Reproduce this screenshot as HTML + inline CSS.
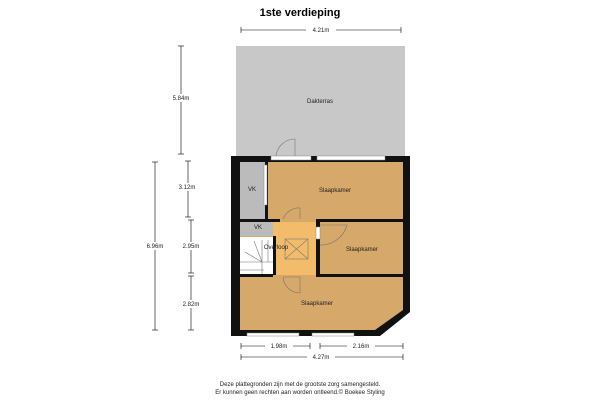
<!DOCTYPE html><html><head><style>body{margin:0;background:#fff}svg{display:block}</style></head><body>
<svg width="600" height="400" viewBox="0 0 600 400" font-family="Liberation Sans, sans-serif">
<text x="300" y="16" text-anchor="middle" font-weight="bold" font-size="11">1ste verdieping</text>
<g stroke="#000" stroke-width="0.6" fill="none">
<line x1="241" y1="30" x2="401" y2="30"/><line x1="241" y1="27" x2="241" y2="33"/><line x1="401" y1="27" x2="401" y2="33"/>
<line x1="181" y1="46" x2="181" y2="154"/><line x1="178" y1="46" x2="184" y2="46"/><line x1="178" y1="154" x2="184" y2="154"/>
<line x1="188" y1="161" x2="188" y2="217"/><line x1="185" y1="161" x2="191" y2="161"/><line x1="185" y1="217" x2="191" y2="217"/>
<line x1="191" y1="220" x2="191" y2="273"/><line x1="188" y1="220" x2="194" y2="220"/><line x1="188" y1="273" x2="194" y2="273"/>
<line x1="191" y1="276" x2="191" y2="330"/><line x1="188" y1="276" x2="194" y2="276"/><line x1="188" y1="330" x2="194" y2="330"/>
<line x1="155" y1="162" x2="155" y2="330"/><line x1="152" y1="162" x2="158" y2="162"/><line x1="152" y1="330" x2="158" y2="330"/>
<line x1="241" y1="346" x2="310" y2="346"/><line x1="320" y1="346" x2="403" y2="346"/>
<line x1="241" y1="343" x2="241" y2="349"/><line x1="310" y1="343" x2="310" y2="349"/><line x1="320" y1="343" x2="320" y2="349"/><line x1="403" y1="343" x2="403" y2="349"/>
<line x1="241" y1="357" x2="403" y2="357"/><line x1="241" y1="354" x2="241" y2="360"/><line x1="403" y1="354" x2="403" y2="360"/>
</g>
<g font-size="6" fill="#222" text-anchor="middle">
<rect x="306" y="26" width="30" height="8" fill="#fff"/><text x="321" y="32">4.21m</text>
<rect x="168" y="94" width="26" height="8" fill="#fff"/><text x="181" y="100">5.84m</text>
<rect x="173" y="183" width="28" height="8" fill="#fff"/><text x="187" y="189">3.12m</text>
<rect x="177" y="242" width="28" height="8" fill="#fff"/><text x="191" y="248">2.95m</text>
<rect x="177" y="300" width="28" height="8" fill="#fff"/><text x="191" y="306">2.82m</text>
<rect x="141" y="242" width="28" height="8" fill="#fff"/><text x="155" y="248">6.96m</text>
<rect x="265" y="342" width="28" height="8" fill="#fff"/><text x="279" y="348">1.98m</text>
<rect x="347" y="342" width="28" height="8" fill="#fff"/><text x="361" y="348">2.16m</text>
<rect x="307" y="353" width="28" height="8" fill="#fff"/><text x="321" y="359">4.27m</text>
<text x="300" y="386">Deze plattegronden zijn met de grootste zorg samengesteld.</text>
<text x="300" y="394">Er kunnen geen rechten aan worden ontleend.© Boekee Styling</text>
</g>
<rect x="236" y="46" width="169" height="111" fill="#c8c8c8"/>
<text x="320" y="103" font-size="6" text-anchor="middle" fill="#222">Dakterras</text>
<!-- building walls -->
<path d="M231 156 H410 V312 L380 336 H231 Z" fill="#111"/>
<path d="M240 162 H403 V310 L375 330 H240 Z" fill="#d6a869"/>
<rect x="240" y="162" width="25" height="57" fill="#bbb"/>
<rect x="240" y="222" width="38" height="14" fill="#bbb"/>
<rect x="240" y="237" width="33" height="37" fill="#fff"/>
<rect x="273" y="222" width="43" height="53" fill="#f3bc6b"/>
<!-- interior walls -->
<rect x="265" y="162" width="3" height="60" fill="#111"/>
<rect x="240" y="219" width="40" height="3" fill="#111"/>
<rect x="316" y="219" width="87" height="3" fill="#111"/>
<rect x="316" y="219" width="4" height="57" fill="#111"/>
<rect x="273" y="236" width="3" height="39" fill="#111"/>
<rect x="240" y="274" width="33" height="3" fill="#111"/>
<rect x="316" y="274" width="87" height="3" fill="#111"/>
<!-- windows -->
<g fill="#fff" stroke="#888" stroke-width="0.5">
<rect x="271" y="156" width="40" height="4"/><rect x="317" y="156" width="68" height="4"/>
<rect x="247" y="333" width="52" height="3"/><rect x="312" y="333" width="42" height="3"/>
<rect x="264" y="165" width="3" height="40"/><rect x="316" y="227" width="4" height="12"/>
</g>
<g fill="none" stroke="#777" stroke-width="0.6">
<path d="M276 156 A19 19 0 0 1 295 139 V156"/>
<path d="M283 219 A17 17 0 0 1 300 208 V219"/>
<path d="M320 225 H347 A27 27 0 0 1 320 245"/>
<path d="M283 277 H300 V293 A17 17 0 0 1 283 277"/>
<rect x="285" y="239" width="23" height="20"/><path d="M285 239 L308 259 M308 239 L285 259"/>
<path d="M240 262 H273 M245 252 L262 262 M240 270 H264 M262 240 V274 M254 241 L262 262 M268 240 V262"/>
</g>
<g font-size="6" fill="#222" text-anchor="middle">
<text x="335" y="192">Slaapkamer</text>
<text x="252" y="191">VK</text>
<text x="258" y="229">VK</text>
<text x="276" y="249">Overloop</text>
<text x="362" y="251">Slaapkamer</text>
<text x="317" y="305">Slaapkamer</text>
</g>
</svg></body></html>
